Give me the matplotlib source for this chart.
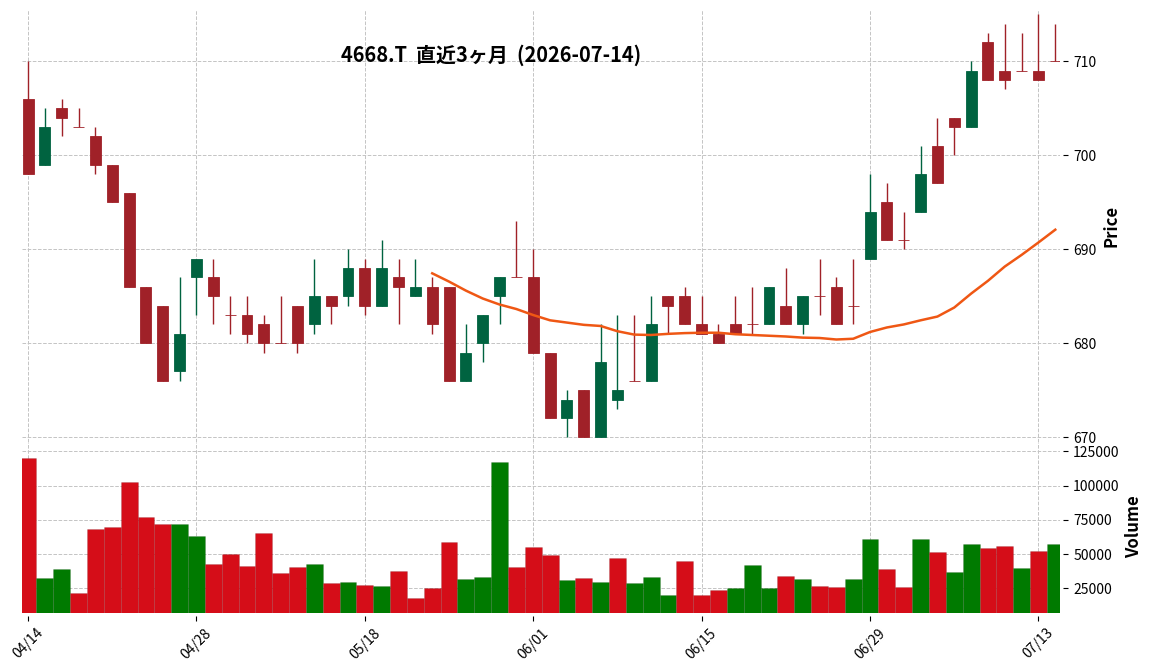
import numpy as np
import pandas as pd
import matplotlib
matplotlib.use("Agg")
import matplotlib.pyplot as plt

plt.rcParams["font.family"] = ["Noto Sans CJK JP", "DejaVu Sans"]

ticker = "4668.T"
title = "4668.T  直近3ヶ月  (2026-07-14)"

# trading days (TSE holidays in range: 4/29, 5/4-5/6)
holidays = ["2026-04-29", "2026-05-04", "2026-05-05", "2026-05-06"]
dates = pd.bdate_range("2026-04-14", "2026-07-14", freq="C", holidays=holidays)

opens = [706, 699, 705, 703, 702, 699, 696, 686, 684, 677,
         687, 687, 683, 683, 682, 680, 684, 682, 685, 685,
         688, 684, 687, 685, 686, 686, 676, 680, 685, 687,
         687, 679, 672, 675, 670, 674, 676, 676, 685, 685,
         682, 681, 682, 682, 682, 684, 682, 685, 686, 684,
         689, 695, 691, 694, 701, 704, 703, 712, 709, 709,
         709, 710]
highs = [710, 705, 706, 705, 703, 699, 696, 686, 684, 687,
         689, 689, 685, 685, 683, 685, 684, 689, 685, 690,
         689, 691, 689, 689, 687, 686, 682, 683, 687, 693,
         690, 679, 675, 675, 682, 683, 683, 685, 685, 686,
         685, 682, 685, 686, 686, 688, 685, 689, 687, 689,
         698, 697, 694, 701, 704, 704, 710, 713, 714, 713,
         715, 714]
lows = [698, 699, 702, 703, 698, 695, 686, 680, 676, 676,
        683, 682, 681, 680, 679, 680, 679, 681, 682, 684,
        683, 684, 682, 685, 681, 676, 676, 678, 682, 687,
        679, 672, 670, 670, 670, 673, 676, 676, 681, 682,
        681, 680, 681, 681, 682, 682, 681, 683, 682, 682,
        689, 691, 690, 694, 697, 700, 703, 708, 707, 709,
        708, 710]
closes = [698, 703, 704, 703, 699, 695, 686, 680, 676, 681,
          689, 685, 683, 681, 680, 680, 680, 685, 684, 688,
          684, 688, 686, 686, 682, 676, 679, 683, 687, 687,
          679, 672, 674, 670, 678, 675, 676, 682, 684, 682,
          681, 680, 681, 682, 686, 682, 685, 685, 682, 684,
          694, 691, 691, 698, 697, 703, 709, 708, 708, 709,
          708, 710]
volumes = [120100, 32600, 39200, 21600, 68600, 69400, 102500, 76700, 72300, 72300,
           63500, 42900, 50200, 41400, 65700, 36300, 40700, 42900, 28900, 29700,
           27500, 26700, 37700, 17900, 25200, 59100, 31900, 33300, 117200, 40700,
           55400, 49500, 31100, 32600, 29700, 47300, 28900, 33300, 20100, 45100,
           20100, 23800, 25200, 42200, 25200, 34100, 31900, 26700, 26000, 31900,
           61300, 39200, 26000, 61300, 51700, 37000, 57600, 54700, 56100, 40000,
           52500, 57600]

up_c, down_c = "#006340", "#a02128"
vup_c, vdown_c = "#007a00", "#d50d18"
mav_c = "#ef5714"
grid_kw = dict(linestyle="--", color="#c4c4c4", linewidth=0.7)

o = np.array(opens, float)
h = np.array(highs, float)
l = np.array(lows, float)
c = np.array(closes, float)
v = np.array(volumes, float)
x = np.arange(len(c))

candle_cols = [up_c if oo < cc else down_c for oo, cc in zip(o, c)]
prev = np.r_[o[0], c[:-1]]
vol_cols = [vup_c if pp < cc else vdown_c for pp, cc in zip(prev, c)]
mav = pd.Series(c).rolling(25).mean()

fig = plt.figure(figsize=(11.52, 6.70), dpi=100)
W, H = 1152, 670
left, right = 22 / W, 1060 / W
ax = fig.add_axes([left, 1 - 441.5 / H, right - left, (441.5 - 10) / H])
axv = fig.add_axes([left, 1 - 612.7 / H, right - left, (612.7 - 441.5) / H], sharex=ax)

# spines first: moving them resets the ticks
for a in (ax, axv):
    for s in a.spines.values():
        s.set_visible(False)
    a.spines["right"].set_position(("outward", 2.5))
    a.spines["bottom"].set_position(("outward", 2.5))
    a.yaxis.tick_right()
    a.yaxis.set_label_position("right")

# price panel
ax.vlines(x, l, h, colors=candle_cols, linewidth=1.0, zorder=2)
ax.bar(x, np.abs(c - o), bottom=np.minimum(o, c), width=0.65,
       color=candle_cols, edgecolor=candle_cols, linewidth=0.6, zorder=3)
ax.plot(x, mav, color=mav_c, linewidth=1.8, zorder=4)
ax.set_ylim(669.55, 715.45)
ax.set_yticks([670, 680, 690, 700, 710])

# volume panel
vticks = [25000, 50000, 75000, 100000, 125000]
axv.bar(x, v, width=1.0, color=vol_cols, edgecolor="#00000022", linewidth=0.5, zorder=2)
axv.set_ylim(7200, 132150)
axv.set_yticks(vticks)
axv.set_yticklabels([str(t) for t in vticks])

tick_idx = list(range(0, len(x), 10))
axv.set_xticks(tick_idx)
axv.set_xticklabels([dates[i].strftime("%m/%d") for i in tick_idx])
axv.set_xlim(-0.36, len(x) - 1 + 0.28)

for a in (ax, axv):
    a.set_axisbelow(True)
    a.grid(True, **grid_kw)
    a.tick_params(axis="y", labelsize=10, length=3.5, width=0.8, left=False)
    a.tick_params(axis="x", labelsize=10, length=3.5, width=0.8)

axv.tick_params(axis="x", labelrotation=45)
ax.tick_params(axis="x", bottom=False, labelbottom=False)
ax.set_ylabel("Price", fontsize=12, fontweight="bold")
axv.set_ylabel("Volume", fontsize=12, fontweight="bold")

fig.text(491 / W, 1 - 55 / H, title, ha="center", va="center",
         fontsize=14.4, fontweight="bold")

fig.savefig("out.png", dpi=100)
